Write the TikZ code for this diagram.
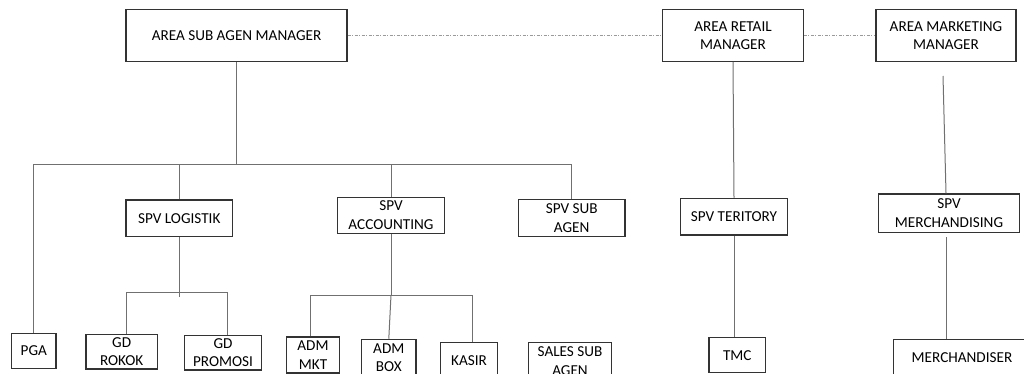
\documentclass[tikz,border=0pt]{standalone}
\usepackage{fontspec}
\setmainfont{Carlito}
\definecolor{boxc}{HTML}{333333}
\definecolor{linec}{HTML}{707070}
\definecolor{dotc}{HTML}{9A9A9A}
\tikzset{
  orgbox/.style={draw=boxc, line width=1.2pt, fill=white, inner sep=0pt, align=center,
    font=\fontsize{15.2}{18.4}\selectfont, text=black},
  conn/.style={draw=linec, line width=1pt},
  dotconn/.style={draw=dotc, line width=0.9pt, dash pattern=on 3pt off 1.5pt on 1pt off 1.5pt}
}
\begin{document}
\begin{tikzpicture}[x=1pt,y=-1pt]
\useasboundingbox (0,0) rectangle (1024,374);
\clip (0,0) rectangle (1024,374);
% top row
\node[orgbox, minimum width=221pt, minimum height=52pt] (asam) at (236.5,35.4) {AREA SUB AGEN MANAGER};
\node[orgbox, minimum width=140.6pt, minimum height=52pt] (arm) at (733,35.4) {AREA RETAIL\\MANAGER};
\node[orgbox, minimum width=140pt, minimum height=52pt] (amm) at (946,35.4) {AREA MARKETING\\MANAGER};
% middle row
\node[orgbox, minimum width=106.7pt, minimum height=36.7pt] (log) at (179.3,218.3) {SPV LOGISTIK};
\node[orgbox, minimum width=106.7pt, minimum height=36pt] (acc) at (391,215.3) {SPV\\ACCOUNTING};
\node[orgbox, minimum width=106.7pt, minimum height=37.4pt] (ssa) at (571.7,218) {SPV SUB\\AGEN};
\node[orgbox, minimum width=106.7pt, minimum height=36.7pt] (ter) at (734,216.7) {SPV TERITORY};
\node[orgbox, minimum width=140.6pt, minimum height=38.7pt] (mer) at (949,213.3) {SPV\\MERCHANDISING};
% bottom row
\node[orgbox, minimum width=44.3pt, minimum height=35pt] (pga) at (33.8,350.8) {PGA};
\node[orgbox, minimum width=71.3pt, minimum height=34.7pt] (rok) at (121.7,351.7) {GD\\ROKOK};
\node[orgbox, minimum width=77.4pt, minimum height=34.7pt] (pro) at (223,352.7) {GD\\PROMOSI};
\node[orgbox, minimum width=53pt, minimum height=36pt] (mkt) at (313,355) {ADM\\MKT};
\node[orgbox, minimum width=54.3pt, minimum height=36.7pt] (box) at (388.8,357.7) {ADM\\BOX};
\node[orgbox, minimum width=56.3pt, minimum height=36.7pt] (kas) at (469,360.7) {KASIR};
\node[orgbox, minimum width=83.4pt, minimum height=37pt] (ssag) at (570,361.3) {SALES SUB\\AGEN};
\node[orgbox, minimum width=56.7pt, minimum height=35pt] (tmc) at (737.3,355.2) {TMC};
\node[orgbox, minimum width=137pt, minimum height=36.7pt] (mdr) at (962,357.7) {MERCHANDISER};
% bus coordinates
\coordinate (bus) at (0,165);
\coordinate (lbus) at (0,292);
\coordinate (lend) at (0,297);
\coordinate (abus) at (0,295);
% dotted links
\draw[dotconn] (asam.east) -- (arm.west);
\draw[dotconn] (arm.east) -- (amm.west);
% area sub agen manager tree
\draw[conn] (asam.south) -- (asam.south |- bus);
\draw[conn] (pga.north) |- (ssa.north |- bus) -- (ssa.north);
\draw[conn] (log.north) -- (log.north |- bus);
\draw[conn] (acc.north) -- (acc.north |- bus);
% logistik
\draw[conn] (log.south) -- (log.south |- lend);
\draw[conn] ([xshift=5pt]rok.north) |- ([xshift=4.7pt]pro.north |- lbus) -- ([xshift=4.7pt]pro.north);
% accounting
\draw[conn] (acc.south) -- (acc.south |- abus);
\draw[conn] ([xshift=-2.3pt]mkt.north) |- ([xshift=3pt]kas.north |- abus) -- ([xshift=3pt]kas.north);
\draw[conn] (acc.south |- abus) -- (box.north);
% retail
\draw[conn] (arm.south) -- (ter.north);
\draw[conn] (ter.south) -- (ter.south |- tmc.north);
% marketing
\draw[conn] ([xshift=-3pt,yshift=-14pt]amm.south) -- ([xshift=-3pt]mer.north);
\draw[conn] ([xshift=-3pt,yshift=-4pt]mer.south) -- ([xshift=-3pt]mer.south |- mdr.north);
\end{tikzpicture}
\end{document}
